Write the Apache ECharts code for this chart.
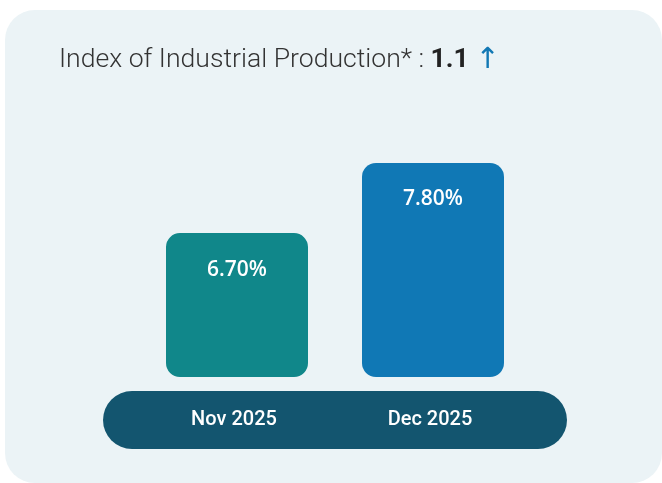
<!DOCTYPE html>
<html>
<head>
<meta charset="utf-8">
<script src="https://cdn.jsdelivr.net/npm/echarts@6/dist/echarts.min.js"></script>
<style>
html,body{margin:0;padding:0;background:#ffffff;}
#chart{width:662px;height:483px;}
</style>
</head>
<body>
<div id="chart"></div>
<script>
const categories = ['Nov 2025', 'Dec 2025'];
const values = [6.70, 7.80];
const barColors = ['#10878A', '#1078B5'];
const titleMain = 'Index of Industrial Production* : ';
const titleValue = '1.1';
const titleArrow = '↑';

const chart = echarts.init(document.getElementById('chart'));
chart.setOption({
  animation: false,
  backgroundColor: '#ffffff',
  title: {
    left: 59,
    top: 43,
    padding: 0,
    text: '{a|' + titleMain + '}{b|' + titleValue + ' }{c|' + titleArrow + '}',
    textStyle: {
      rich: {
        a: { fontFamily: 'Roboto', fontWeight: 300, fontSize: 26.6, color: '#333333', lineHeight: 34 },
        b: { fontFamily: 'Roboto', fontWeight: 'bold', fontSize: 26.6, color: '#222222', lineHeight: 34 },
        c: { fontFamily: 'DejaVu Sans', fontWeight: 'normal', fontSize: 29, color: '#1278B4', lineHeight: 34 }
      }
    }
  },
  graphic: [
    { type: 'rect', z: -10, shape: { x: 5, y: 10, width: 657, height: 473, r: 30 }, style: { fill: '#EBF3F6' } },
    { type: 'rect', z: -5, shape: { x: 103, y: 391, width: 464, height: 58, r: 29 }, style: { fill: '#13556F' } }
  ],
  grid: { left: 139, width: 392, top: 163, bottom: 106 },
  xAxis: {
    type: 'category',
    data: categories,
    axisLine: { show: false },
    axisTick: { show: false },
    axisLabel: {
      margin: 43,
      verticalAlign: 'middle',
      padding: [0, 6, 0, 0],
      color: '#ffffff',
      fontFamily: 'Roboto',
      fontWeight: 500,
      fontSize: 20
    }
  },
  yAxis: {
    type: 'value',
    min: 4.44,
    max: 7.8,
    show: false,
    splitLine: { show: false }
  },
  series: [{
    type: 'bar',
    barWidth: 142,
    data: values.map((v, i) => ({ value: v, itemStyle: { color: barColors[i] } })),
    itemStyle: { borderRadius: 14 },
    label: {
      show: true,
      position: 'insideTop',
      distance: 26,
      color: '#ffffff',
      fontFamily: 'Open Sans',
      fontWeight: 600,
      fontSize: 21,
      formatter: p => p.value.toFixed(2) + '%'
    }
  }]
});
</script>
</body>
</html>
